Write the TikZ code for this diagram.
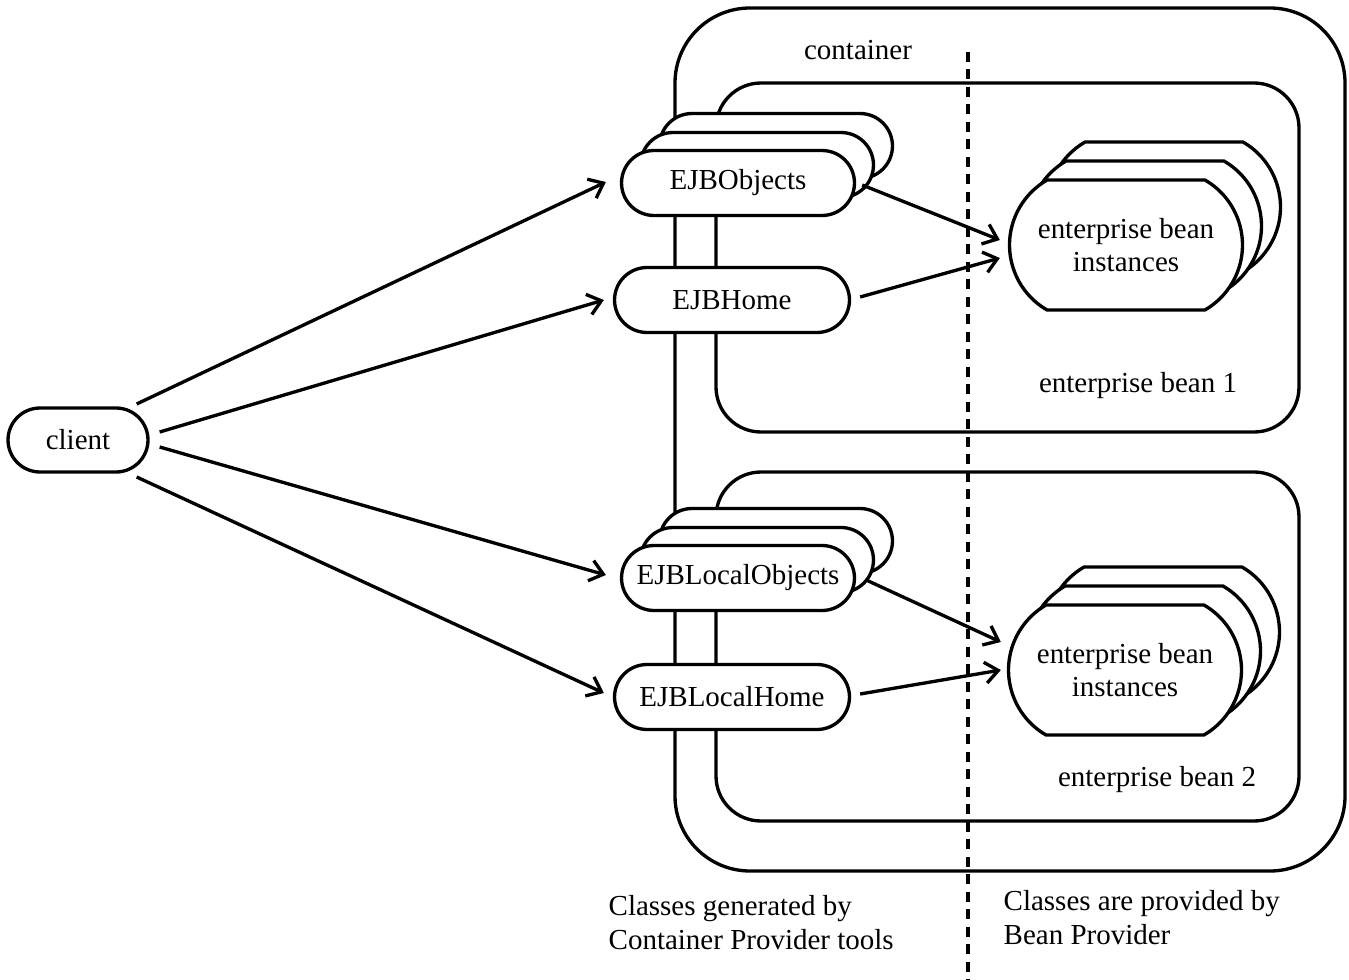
\documentclass[tikz,border=0pt]{standalone}
\usepackage{fontspec}
\setmainfont{Liberation Serif}
\usetikzlibrary{positioning,arrows.meta,shapes.misc}

\begin{document}
\begin{tikzpicture}[
  x=0.02cm, y=-0.02cm,
  >={Straight Barb[length=2.6mm,width=4.2mm]},
  line width=1.9pt,
  every node/.style={font=\fontsize{16.5}{19}\selectfont},
  pill/.style={draw, fill=white, rounded rectangle, inner sep=0pt, minimum height=1.3cm},
  beanstack/.style={draw, fill=white, rounded rectangle, rounded rectangle arc length=120,
    inner sep=0pt, minimum width=4.66cm, minimum height=2.6cm, align=center},
  note/.style={align=left, anchor=north west, inner sep=0pt},
  arrow/.style={->}
]
\useasboundingbox (0,0) rectangle (1349,980);

% Container and the two bean boxes
\draw[rounded corners=1.5cm] (675,8) rectangle (1345,871);
\draw[rounded corners=0.9cm] (716,83) rectangle (1299,432);
\draw[rounded corners=0.9cm] (716,472) rectangle (1299,821);

% Divider between generated and provided classes
\draw[line width=2.2pt, dash pattern=on 0.2cm off 0.15cm] (968,52) -- (968,980);

\node (container) at (858,50) {container};
\node (bean1label) at (1138,386) {enterprise bean 1};
\node (bean2label) at (1157,780) {enterprise bean 2};

% Client
\node[pill, minimum width=2.8cm, minimum height=1.28cm] (client) at (78,440) {client};

% Enterprise bean 1 interfaces (stacked objects)
\node[pill, minimum width=4.66cm] (objback2) at (776,146) {};
\node[pill, minimum width=4.66cm] (objback1) at ([shift={(-19,19)}]objback2.center) {};
\node[pill, minimum width=4.66cm] (objects) at ([shift={(-19,18)}]objback1.center) {EJBObjects};
\node[pill, minimum width=4.7cm] (home) at (732,300) {EJBHome};

% Enterprise bean 2 interfaces
\node[pill, minimum width=4.66cm] (lobjback2) at (776,541) {};
\node[pill, minimum width=4.66cm] (lobjback1) at ([shift={(-19,19)}]lobjback2.center) {};
\node[pill, minimum width=4.66cm] (lobjects) at ([shift={(-19,18)}]lobjback1.center) {EJBLocalObjects};
\node[pill, minimum width=4.7cm] (lhome) at (732,697) {EJBLocalHome};

% Bean instances
\node[beanstack] (beans1back2) at (1164,207) {};
\node[beanstack] (beans1back1) at ([shift={(-19,19)}]beans1back2.center) {};
\node[beanstack] (beans1) at ([shift={(-19,19)}]beans1back1.center) {enterprise bean\\instances};

\node[beanstack] (beans2back2) at (1163,632) {};
\node[beanstack] (beans2back1) at ([shift={(-19,19)}]beans2back2.center) {};
\node[beanstack] (beans2) at ([shift={(-19,19)}]beans2back1.center) {enterprise bean\\instances};

% Client calls
\draw[arrow] ([shift={(-13,-36)}]client.east) -- ([shift={(-14,-1)}]objects.west);
\draw[arrow] ([shift={(10,-8)}]client.east) -- ([shift={(-9,0)}]home.west);
\draw[arrow] ([shift={(10,7)}]client.east) -- ([shift={(-14,-3)}]lobjects.west);
\draw[arrow] ([shift={(-13,37)}]client.east) -- ([shift={(-9,-4)}]lhome.west);

% Delegation to the instances
\draw[arrow] ([shift={(6,2)}]objects.east) -- ([shift={(-8,-5)}]beans1.west);
\draw[arrow] ([shift={(9,-3)}]home.east) -- ([shift={(-8,13)}]beans1.west);
\draw[arrow] ([shift={(10,2)}]lobjects.east) -- ([shift={(-6,-28)}]beans2.west);
\draw[arrow] ([shift={(9,-3)}]lhome.east) -- ([shift={(-6,0)}]beans2.west);

% Captions
\node[note] (gentext) at (607,894) {Classes generated by\\Container Provider tools};
\node[note] (provtext) at (1002,889) {Classes are provided by\\Bean Provider};

\end{tikzpicture}
\end{document}
